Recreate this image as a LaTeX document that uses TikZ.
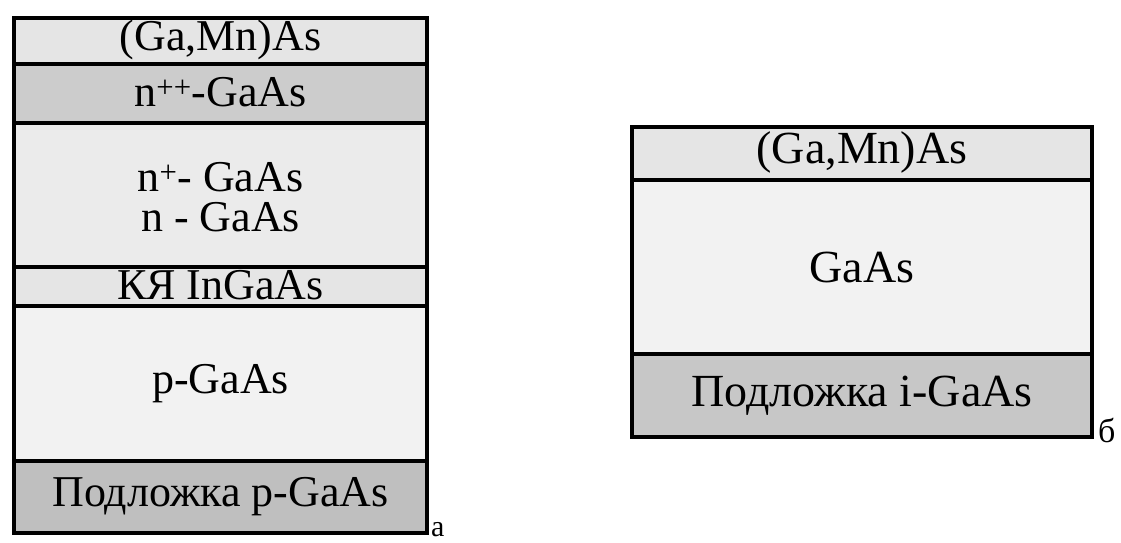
\documentclass[tikz,border=0pt]{standalone}
\usepackage{fontspec}
\setmainfont{Liberation Serif}
\newfontfamily\tms{Liberation Serif}
\begin{document}
\begin{tikzpicture}[x=1pt,y=-1pt,
  layer/.style={draw=black, line width=4pt, inner sep=0pt, anchor=north west},
  ltext/.style={font=\tms\fontsize{44}{40}\selectfont, align=center, inner sep=0pt},
  rtext/.style={font=\tms\fontsize{46}{44}\selectfont, align=center, inner sep=0pt},
  tag/.style={font=\tms\fontsize{30}{30}\selectfont, inner sep=0pt, anchor=base west}]
\useasboundingbox (0,0) rectangle (1121,543);
% left stack
\node[layer, fill=black!10, minimum width=413pt, minimum height=46pt] (la) at (12,16) {};
\node[ltext] (lat) at ([yshift=1pt]la.center) {(Ga,Mn)As};
\node[layer, fill=black!20, minimum width=413pt, minimum height=59pt] (lb) at (12,62) {};
\node[ltext] (lbt) at ([yshift=1pt]lb.center) {n\textsuperscript{++}-GaAs};
\node[layer, fill=black!8, minimum width=413pt, minimum height=144pt] (lc) at (12,121) {};
\node[ltext] (lct) at ([yshift=-2pt]lc.center) {n\textsuperscript{+}- GaAs\\n - GaAs};
\node[layer, fill=black!10, minimum width=413pt, minimum height=39pt] (ld) at (12,265) {};
\node[ltext] (ldt) at ([yshift=1pt]ld.center) {КЯ InGaAs};
\node[layer, fill=black!5, minimum width=413pt, minimum height=155pt] (le) at (12,304) {};
\node[ltext] (let) at (le.center) {p-GaAs};
\node[layer, fill=black!25, minimum width=413pt, minimum height=72pt] (lf) at (12,459) {};
\node[ltext] (lft) at (lf.center) {Подложка p-GaAs};
\node[tag] (ta) at (431,536) {а};
% right stack
\node[layer, fill=black!10, minimum width=460pt, minimum height=53pt] (ra) at (630,125) {};
\node[rtext] (rat) at ([yshift=1pt]ra.center) {(Ga,Mn)As};
\node[layer, fill=black!5, minimum width=460pt, minimum height=174pt] (rb) at (630,178) {};
\node[rtext] (rbt) at (rb.center) {GaAs};
\node[layer, fill=black!22, minimum width=460pt, minimum height=83pt] (rc) at (630,352) {};
\node[rtext] (rct) at (rc.center) {Подложка i-GaAs};
\node[tag, font=\tms\fontsize{34}{34}\selectfont] (tb) at (1098,442) {б};
\end{tikzpicture}
\end{document}
